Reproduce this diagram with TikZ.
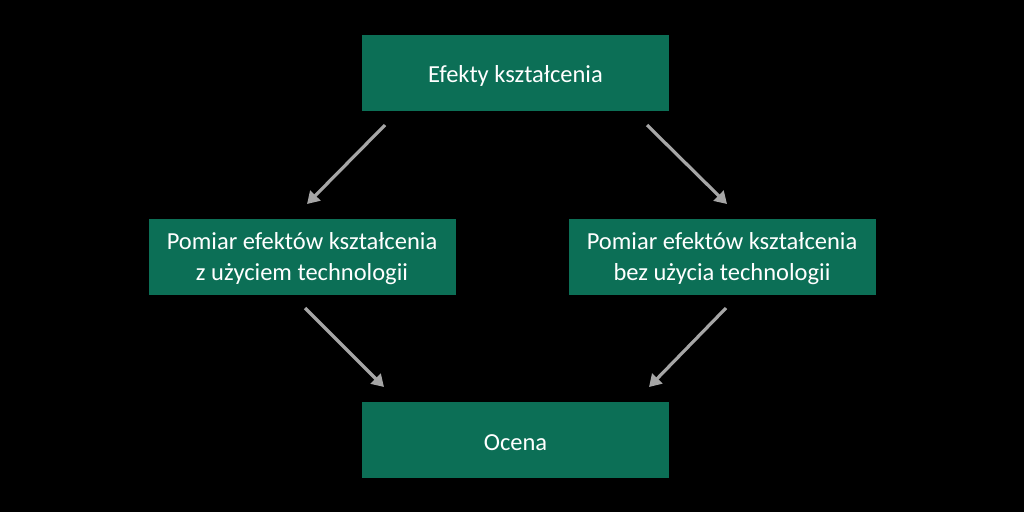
\documentclass[tikz,border=0pt]{standalone}
\usepackage{fontspec}
\setmainfont{Carlito}
\usetikzlibrary{arrows.meta}
\definecolor{boxgreen}{HTML}{0C6F56}
\definecolor{arrowgray}{HTML}{A6A6A6}
\begin{document}
\begin{tikzpicture}[x=1pt,y=-1pt,
  box/.style={fill=boxgreen,draw=none,minimum width=307pt,minimum height=76pt,inner sep=0pt},
  txt/.style={text=white,align=center,font=\fontsize{24.5}{31}\selectfont,inner sep=0pt,yshift=-2.5pt},
  conn/.style={draw=arrowgray,line width=3.2pt,-{Triangle[length=12pt,width=14pt]}}]
\fill[black] (0,0) rectangle (1024,512);
\useasboundingbox (0,0) rectangle (1024,512);
\node[box] (top) at (515.5,73) {};
\node[box] (left) at (302,256.5) {};
\node[box] (right) at (722,256.5) {};
\node[box] (bot) at (515.5,440) {};
\node[txt] (topt) at (top) {Efekty kształcenia};
\node[txt] (leftt) at (left) {Pomiar efektów kształcenia\\z użyciem technologii};
\node[txt] (rightt) at (right) {Pomiar efektów kształcenia\\bez użycia technologii};
\node[txt] (bott) at (bot) {Ocena};
\coordinate (a1) at (385,125); \coordinate (a2) at (307,204);
\coordinate (b1) at (647,125); \coordinate (b2) at (727,204);
\coordinate (c1) at (305,308); \coordinate (c2) at (384,387);
\coordinate (d1) at (726,308); \coordinate (d2) at (649,387);
\draw[conn] (a1) -- (a2);
\draw[conn] (b1) -- (b2);
\draw[conn] (c1) -- (c2);
\draw[conn] (d1) -- (d2);
\end{tikzpicture}
\end{document}
